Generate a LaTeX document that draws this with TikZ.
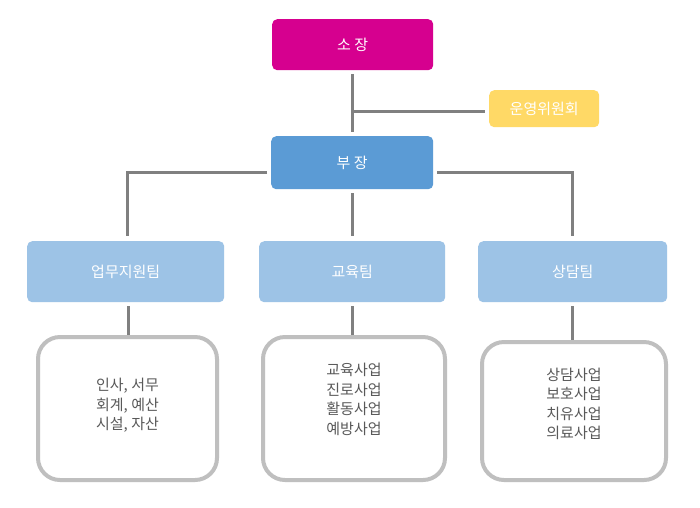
\documentclass[tikz,border=0pt]{standalone}
\usepackage{fontspec}
\setmainfont{Noto Sans CJK KR}
\begin{document}
\begin{tikzpicture}[x=1pt,y=-1pt,
  box/.style={draw=none,rounded corners=5pt,text=white,font=\fontsize{15}{17}\selectfont,inner sep=0pt,anchor=north west},
  sub/.style={draw=subgray,line width=4pt,rounded corners=22pt,fill=white,inner sep=0pt,anchor=north west},
  subtext/.style={inner sep=0pt,text=textgray,align=center,font=\fontsize{15}{19.5}\selectfont},
  conn/.style={draw=linegray,line width=3pt}]
\definecolor{mag}{HTML}{D6008F}
\definecolor{yel}{HTML}{FFD966}
\definecolor{blu}{HTML}{5B9BD5}
\definecolor{lblu}{HTML}{9DC3E6}
\definecolor{subgray}{HTML}{BFBFBF}
\definecolor{linegray}{HTML}{808080}
\definecolor{textgray}{HTML}{595959}
\useasboundingbox[fill=white] (0,0) rectangle (700,507);
\node[box,fill=mag,minimum width=161pt,minimum height=51pt] (so) at (272,19) {소 장};
\node[box,fill=yel,minimum width=110pt,minimum height=37pt] (un) at (489,90) {운영위원회};
\node[box,fill=blu,minimum width=162pt,minimum height=53pt] (bu) at (271,136) {부 장};
\node[box,fill=lblu,minimum width=197pt,minimum height=61pt] (t1) at (27,241) {업무지원팀};
\node[box,fill=lblu,minimum width=186pt,minimum height=61pt] (t2) at (259,241) {교육팀};
\node[box,fill=lblu,minimum width=189pt,minimum height=61pt] (t3) at (478,241) {상담팀};
\node[sub,minimum width=179pt,minimum height=143pt] (s1) at (36,335) {};
\node[sub,minimum width=182pt,minimum height=143pt] (s2) at (261,335) {};
\node[sub,minimum width=184pt,minimum height=138pt] (s3) at (480,340) {};
\node[subtext] (s1t) at ([yshift=3pt]s1.center) {인사, 서무\\회계, 예산\\시설, 자산};
\node[subtext] (s2t) at ([yshift=9pt]s2.center) {교육사업\\진로사업\\활동사업\\예방사업};
\node[subtext] (s3t) at ([yshift=7pt]s3.center) {상담사업\\보호사업\\치유사업\\의료사업};
\coordinate (j) at ([yshift=-2.5pt]so.south |- un.west);
\draw[conn,shorten <=4pt,shorten >=4pt] (so.south) -- (so.south |- bu.north);
\draw[conn,shorten >=4pt] (j) -- (j -| un.west);
\draw[conn,shorten <=4pt] ([yshift=-9.5pt]bu.west) -| ([xshift=1.5pt,yshift=5pt]t1.north);
\draw[conn,shorten <=4pt] ([yshift=-9.5pt]bu.east) -| ([yshift=5pt]t3.north);
\draw[conn,shorten <=4pt,shorten >=5pt] (bu.south) -- (bu.south |- t2.north);
\draw[conn,shorten <=4pt] ([xshift=2.5pt]t1.south) -- ([xshift=2.5pt]t1.south |- s1.north);
\draw[conn,shorten <=4pt] (t2.south) -- (t2.south |- s2.north);
\draw[conn,shorten <=4pt] (t3.south) -- (t3.south |- s3.north);
\end{tikzpicture}
\end{document}
